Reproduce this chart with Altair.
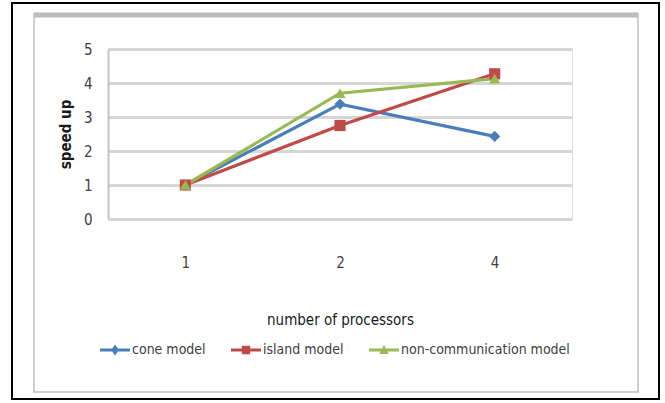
import altair as alt
import pandas as pd

processors = ["1", "2", "4"]
series = ["cone model", "island model", "non-communication model"]
cone = [1.0, 3.38, 2.43]
island = [1.0, 2.75, 4.27]
noncomm = [1.0, 3.70, 4.13]
y_ticks = [0, 1, 2, 3, 4, 5]

colors = ["#4a7ebb", "#be4b48", "#98b954"]
marker_shapes = ["diamond", "square", "triangle-up"]
legend_paths = [
    "M-1,-0.1H1V0.1H-1Z M0,-0.36L0.26,0L0,0.36L-0.26,0Z",
    "M-1,-0.1H1V0.1H-1Z M-0.28,-0.28H0.28V0.28H-0.28Z",
    "M-1,-0.1H1V0.1H-1Z M0,-0.34L0.32,0.26H-0.32Z",
]
marker_keys = [s + " " for s in series]

rows = []
for name, key, vals in zip(series, marker_keys, [cone, island, noncomm]):
    for p, v in zip(processors, vals):
        rows.append({"procs": p, "speedup": v, "series": name, "marker": key})
df = pd.DataFrame(rows)

FONT = "Liberation Sans Narrow, DejaVu Sans Condensed, Roboto Condensed, DejaVu Sans, sans-serif"
W, H = 464, 170

x_enc = alt.X("procs:O", sort=processors,
              scale=alt.Scale(type="point", padding=0.5),
              axis=alt.Axis(title="number of processors", labelAngle=0, domain=False, ticks=False,
                            grid=False, labelPadding=36, labelFontSize=15, labelColor="#404040",
                            titleFontSize=15, titleFontWeight="normal", titleColor="#1a1a1a",
                            titleY=100, titleBaseline="middle"))
y_enc = alt.Y("speedup:Q", scale=alt.Scale(domain=[0, 5], nice=False),
              axis=alt.Axis(title="speed up", values=y_ticks, format="d", domain=True,
                            domainColor="#c4c4c4", domainWidth=2, ticks=False, grid=True,
                            gridColor="#d6d6d6", gridWidth=3, labelPadding=16,
                            labelFontSize=15, labelColor="#404040",
                            titleFontSize=15, titleFontWeight="bold", titleColor="#1a1a1a",
                            titleX=-43, titleY=85, titleBaseline="middle", titleAngle=270))

color_scale = alt.Scale(domain=series + marker_keys, range=colors + colors)
shape_scale = alt.Scale(domain=series + marker_keys, range=legend_paths + marker_shapes)

base = alt.Chart(df)

legend_cfg = alt.Legend(title=None, orient="none", legendX=-8, legendY=286, direction="horizontal",
                        columns=3, values=series, symbolSize=900, symbolOpacity=1,
                        symbolStrokeWidth=0, labelFontSize=14, labelColor="#404040",
                        labelOffset=2, columnPadding=25, labelLimit=300)

legend_layer = base.mark_point(filled=True, opacity=0).encode(
    x=x_enc, y=y_enc,
    color=alt.Color("series:N", scale=color_scale, legend=legend_cfg),
    shape=alt.Shape("series:N", scale=shape_scale, legend=legend_cfg),
)

lines = base.mark_line(strokeWidth=3.2).encode(
    x=x_enc, y=y_enc,
    color=alt.Color("series:N", scale=color_scale, legend=None),
)

points = base.mark_point(filled=True, opacity=1, size=125).encode(
    x=x_enc, y=y_enc,
    color=alt.Color("marker:N", scale=color_scale, legend=None),
    shape=alt.Shape("marker:N", scale=shape_scale, legend=None),
)

frame_data = alt.Data(values=[{}])
outer = alt.Chart(frame_data).mark_rect(fill="transparent", stroke="#000000", strokeWidth=2).encode(
    x=alt.value(-96), x2=alt.value(551), y=alt.value(-46), y2=alt.value(350))
inner = alt.Chart(frame_data).mark_rect(fill="transparent", stroke="#cfcfcf", strokeWidth=2).encode(
    x=alt.value(-74), x2=alt.value(530), y=alt.value(-35), y2=alt.value(343))
top_band = alt.Chart(frame_data).mark_rule(stroke="#bdbdbd", strokeWidth=5).encode(
    x=alt.value(-74), x2=alt.value(530), y=alt.value(-34))

chart = alt.layer(outer, inner, top_band, legend_layer, lines, points).properties(
    width=W, height=H,
    autosize=alt.AutoSizeParams(type="none"),
    padding={"left": 108, "top": 49, "right": 665 - 108 - W, "bottom": 403 - 49 - H},
    background="white",
).configure_view(stroke=None).configure(font=FONT)

chart.save("out.html", embed_options={"renderer": "svg", "actions": False})
